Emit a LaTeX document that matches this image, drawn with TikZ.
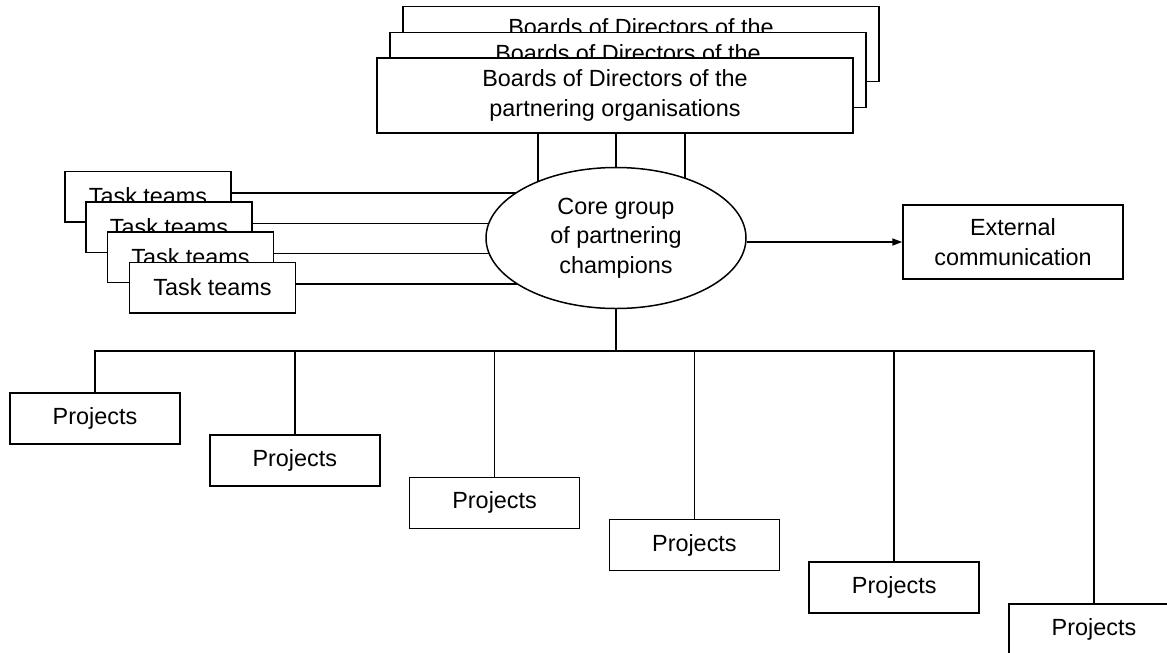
\documentclass[tikz,border=0pt]{standalone}
\usepackage{fontspec}
\setmainfont{Liberation Sans}
\usetikzlibrary{arrows.meta,shapes.geometric}
\begin{document}
\begin{tikzpicture}[x=1pt,y=-1pt,
  every node/.style={font=\fontsize{23.4}{29.5}\selectfont},
  box/.style={draw,fill=white,line width=1.5pt,inner sep=0pt,align=center},
  board/.style={box,minimum width=476pt,minimum height=75pt},
  task/.style={box,minimum width=166pt,minimum height=50.5pt},
  proj/.style={box,minimum width=170pt,minimum height=51pt},
  extbox/.style={box,minimum width=220pt,minimum height=74pt},
  core/.style={draw,fill=white,line width=1.5pt,ellipse,inner sep=0pt,
    align=center,minimum width=260pt,minimum height=141pt},
  link/.style={line width=1.5pt},
]
\fill[white] (0,0) rectangle (1167,653);
\useasboundingbox (0,0) rectangle (1167,653);
\clip (0,0) rectangle (1167,653);

% centre of the core group ellipse
\coordinate (cc) at (616,238);

% stacked boards of directors, back to front
\node[board] (b1) at (641,44)   {Boards of Directors of the\\partnering organisations};
\node[board] (b2) at (628,70)   {Boards of Directors of the\\partnering organisations};
\node[board] (b3) at (615,95.5) {Boards of Directors of the\\partnering organisations};

% stacked task teams, back to front
\node[task] (t1) at (148,196.5) {Task teams};
\node[task] (t2) at (169,227)   {Task teams};
\node[task] (t3) at (190.5,257) {Task teams};
\node[task] (t4) at (212.5,287.5) {Task teams};

% links into the core group (the ellipse covers their inner ends)
\foreach \dx/\n in {-77/l,1/m,70/r}
  \draw[link] (b3.south) ++(\dx,0) coordinate (bs\n) -- (bs\n |- cc);
\foreach \n in {1,...,4}
  \draw[link] (t\n.east) ++(0,-3.5) coordinate (te\n) -- (te\n -| cc);

\node[core] (core) at (cc) {Core group\\of partnering\\champions};

% external communication
\node[extbox] (ext) at (1013,242) {External\\communication};
\draw[link,-{Triangle[length=10pt,width=7pt]}] (core.east |- ext.west) -- (ext.west);

% projects hanging from a common bus
\foreach \i in {0,...,5}
  \node[proj] (p\i) at ({95+199.8*\i},{418.5+42.2*\i}) {Projects};
\coordinate (bus) at (616,351);
\draw[link] (core.south) -- (bus);
\draw[link] (p0.north) -- (p0.north |- bus) -- (p5.north |- bus) -- (p5.north);
\foreach \i in {1,...,4}
  \draw[link] (p\i.north) -- (p\i.north |- bus);
\end{tikzpicture}
\end{document}
